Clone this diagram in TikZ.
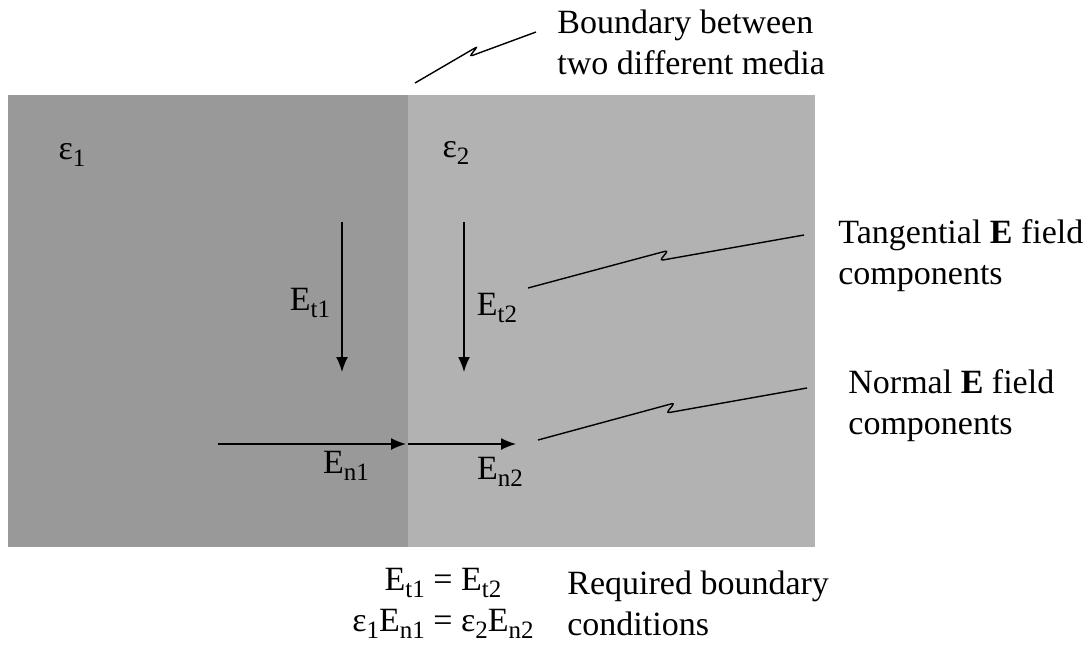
\documentclass[tikz,border=0pt]{standalone}
\usepackage{fontspec}
\setmainfont{Liberation Serif}
\usepackage{tikz}
\usetikzlibrary{positioning,calc,arrows.meta}

\definecolor{mediumone}{RGB}{153,153,153}
\definecolor{mediumtwo}{RGB}{178,178,178}

% subscript the way the figure sets it: large and well lowered
\newcommand{\fsub}[1]{\raisebox{-0.45ex}{\fontsize{12.5}{12.5}\selectfont #1}}

\tikzset{
  field/.style={line width=0.75pt, -{Latex[length=7.5pt,width=6pt]}},
  leader/.style={line width=0.7pt, rounded corners=1.5pt,
    to path={-- ($(\tikztostart)!0.5!(\tikztotarget)+(2,-11)$)
             -- ($(\tikztostart)!0.5!(\tikztotarget)+(-6,-1)$)
             -- (\tikztotarget)}},
  lbl/.style={font=\fontsize{17}{20.5}\selectfont, inner sep=0pt},
  note/.style={lbl, align=left, anchor=west}
}

\begin{document}
\begin{tikzpicture}[x=0.5pt, y=-0.5pt]
\useasboundingbox (0,0) rectangle (1089,644);

% the two media
\fill[mediumone] (8,95) rectangle (408,547);
\fill[mediumtwo] (408,95) rectangle (815,547);

\node[lbl] (eps1) at (72,155) {ε\fsub{1}};
\node[lbl] (eps2) at (456,153) {ε\fsub{2}};

% tangential components
\coordinate (t1top) at (342,222);
\coordinate (t1tip) at (342,372);
\coordinate (t2top) at (464,222);
\coordinate (t2tip) at (464,372);
\draw[field] (t1top) -- (t1tip);
\draw[field] (t2top) -- (t2tip);
\node[lbl] (Et1) at (310,303) {E\fsub{t1}};
\node[lbl] (Et2) at (497,308) {E\fsub{t2}};

% normal components
\coordinate (n1tail) at (218,444);
\coordinate (n1tip) at (406,444);
\coordinate (n2tail) at (408,444);
\coordinate (n2tip) at (516,444);
\draw[field] (n1tail) -- (n1tip);
\draw[field] (n2tail) -- (n2tip);
\node[lbl] (En1) at (346,466) {E\fsub{n1}};
\node[lbl] (En2) at (500,472) {E\fsub{n2}};

% callouts
\node[note] (boundary) at (557,42) {Boundary between\\two different media};
\node[note] (tangential) at (838,256) {Tangential \textbf{E} field\\components};
\node[note] (normal) at (848,406) {Normal \textbf{E} field\\components};

\coordinate (bstart) at (415,83);
\coordinate (bend) at (536,32);
\coordinate (tstart) at (528,288);
\coordinate (tend) at (804,235);
\coordinate (nstart) at (538,440);
\coordinate (nend) at (807,388);
\draw[leader] (bstart) to (bend);
\draw[leader] (tstart) to (tend);
\draw[leader] (nstart) to (nend);

% boundary conditions
\node[lbl, align=center] (eqs) at (443,603)
  {E\fsub{t1} = E\fsub{t2}\\
   ε\fsub{1}E\fsub{n1} = ε\fsub{2}E\fsub{n2}};
\node[note] (required) at (567,603) {Required boundary\\conditions};
\end{tikzpicture}
\end{document}
